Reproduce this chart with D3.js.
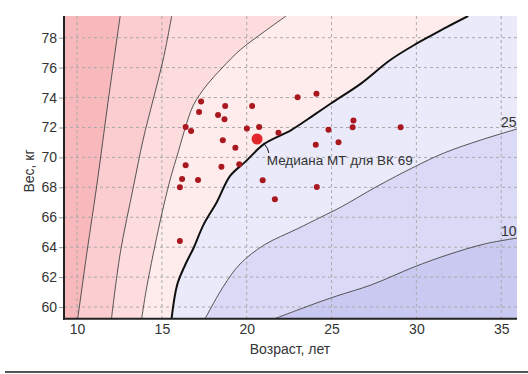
<!DOCTYPE html>
<html><head><meta charset="utf-8">
<script src="https://cdn.jsdelivr.net/npm/d3@7"></script>
<style>body{margin:0;background:#fff}svg{display:block}text{font-family:Arial,"Liberation Sans",sans-serif;fill:#333}</style>
</head><body><svg id="c" width="528" height="374"></svg>
<script>
// Percentile curves (age, weight), each from its upper/right end down to the bottom edge
const curveP97 = [[12.54,79.45],[11.85,73.9],[11.15,68.03],[10.6,63.8],[10.04,59.23]];
const curveP90 = [[15.58,79.45],[15.07,76.51],[14.48,73.84],[13.89,71.17],[13.32,68.03],[12.54,63.57],[12.03,59.23]];
const curveP75 = [[22.32,79.45],[21.03,78.40],[19.61,77.18],[18.55,75.98],[17.65,74.84],[16.86,73.50],[16.37,71.95],[15.97,70.38],[15.48,68.49],[14.89,65.69],[14.11,61.35],[13.81,59.23]];
const curveP50 = [[33.05,79.45],[31.82,78.73],[30.81,78.11],[30.05,77.63],[28.46,76.51],[26.75,74.95],[24.98,73.62],[23.97,72.84],[22.62,71.83],[21.03,70.90],[19.91,69.70],[19.02,68.76],[18.25,67.04],[17.45,65.49],[16.86,63.93],[16.37,62.81],[15.90,61.48],[15.57,59.23]];
const curveP25 = [[35.94,71.90],[33.82,71.17],[31.64,70.30],[29.87,69.36],[27.63,68.03],[25.57,66.69],[24.39,66.02],[22.97,65.22],[21.03,64.15],[19.61,62.88],[18.61,61.35],[17.55,59.23]];
const curveP10 = [[35.94,64.61],[34.0,64.21],[31.82,63.48],[29.87,62.68],[27.34,61.48],[25.31,60.74],[23.97,60.21],[21.67,59.23]];

// Individual observations
const ages = [17.31,17.19,18.73,20.32,18.31,18.69,16.40,16.72,20.01,20.73,21.87,18.59,19.33,19.56,16.40,18.51,16.19,17.13,20.94,16.06,21.66,16.06,23.0,24.11,26.29,26.24,24.82,24.07,25.41,29.07,24.13];
const weights = [73.74,73.04,73.44,73.44,72.84,72.55,72.03,71.77,71.93,72.03,71.65,71.15,70.65,69.55,69.48,69.38,68.56,68.49,68.47,68.01,67.21,64.42,74.02,74.25,72.47,72.01,71.85,70.85,71.02,72.01,68.03];
const medianPoint = [20.61, 71.23];
const medianLabel = "Медиана МТ для ВК 69";
const xTicks = [10,15,20,25,30,35];
const yTicks = [60,62,64,66,68,70,72,74,76,78];
const xTitle = "Возраст, лет";
const yTitle = "Вес, кг";

const L=64,R=517,T=16,B=318.7;
const x = d3.scaleLinear().domain([9.23,35.93]).range([L,R]);
const y = d3.scaleLinear().domain([59.22,79.45]).range([B,T]);
const svg = d3.select("#c");
svg.append("defs").append("clipPath").attr("id","pc").append("rect").attr("x",L).attr("y",T).attr("width",R-L).attr("height",B-T);
const g = svg.append("g").attr("clip-path","url(#pc)");
const line = d3.line().x(d=>x(d[0])).y(d=>y(d[1])).curve(d3.curveCatmullRom);

g.append("rect").attr("x",L).attr("y",T).attr("width",R-L).attr("height",B-T).attr("fill","#f8b9bd");
const bands = [[curveP97,"#fbcdd0"],[curveP90,"#fddcdd"],[curveP75,"#feecec"],[curveP50,"#eaeafb"],[curveP25,"#dadaf7"],[curveP10,"#c9c9f2"]];
bands.forEach(([c,col])=>{
  let p = line(c) + `L${x(36.5)},${y(58.5)}`;
  if (c[0][1] >= 79.4) p += `L${x(36.5)},${y(80)}`;
  p += "Z";
  g.append("path").attr("d",p).attr("fill",col);
});
// grid
xTicks.forEach(t=>g.append("line").attr("x1",x(t)).attr("x2",x(t)).attr("y1",T).attr("y2",B).attr("stroke","#aaa").attr("stroke-dasharray","3,3"));
yTicks.forEach(t=>g.append("line").attr("x1",L).attr("x2",R).attr("y1",y(t)).attr("y2",y(t)).attr("stroke","#aaa").attr("stroke-dasharray","3,3"));
// curves
[curveP97,curveP90,curveP75,curveP25,curveP10].forEach(c=>g.append("path").attr("d",line(c)).attr("fill","none").attr("stroke","#444").attr("stroke-width",0.9));
g.append("path").attr("d",line(curveP50)).attr("fill","none").attr("stroke","#111").attr("stroke-width",2);

// axes
const ya = svg.append("g").attr("transform",`translate(${L},0)`).call(d3.axisLeft(y).tickValues(yTicks).tickSize(5).tickPadding(2).tickFormat(d3.format("d")));
const xa = svg.append("g").attr("transform",`translate(0,${B})`).call(d3.axisBottom(x).tickValues(xTicks).tickSize(0).tickPadding(5).tickFormat(d3.format("d")));
[ya,xa].forEach(a=>{a.select(".domain").remove();a.selectAll("text").attr("font-size",14).attr("font-family","Arial,'Liberation Sans',sans-serif").attr("fill","#333");a.selectAll("line").attr("stroke","#999");});
svg.append("line").attr("x1",L).attr("x2",L).attr("y1",T).attr("y2",B+1).attr("stroke","#222").attr("stroke-width",2);
svg.append("line").attr("x1",L-1).attr("x2",R).attr("y1",B).attr("y2",B).attr("stroke","#222").attr("stroke-width",2);

// labels on curves
svg.append("text").attr("x",x(35.9)).attr("y",y(curveP25[0][1])-2).attr("text-anchor","end").attr("font-size",14).text("25");
svg.append("text").attr("x",x(35.9)).attr("y",y(curveP10[0][1])-2).attr("text-anchor","end").attr("font-size",14).text("10");

// points
const pts = ages.map((a,i)=>[a,weights[i]]);
g.selectAll("circle.pt").data(pts).join("circle").attr("class","pt").attr("cx",d=>x(d[0])).attr("cy",d=>y(d[1])).attr("r",3).attr("fill","#a8181e");
g.append("circle").attr("cx",x(medianPoint[0])).attr("cy",y(medianPoint[1])).attr("r",5.5).attr("fill","#e3262b");

// annotation
svg.append("path").attr("d",`M${x(21.0)},${y(70.95)} Q${x(21.1)+3},${y(70.6)} ${x(21.3)},${y(70.3)}`).attr("fill","none").attr("stroke","#111").attr("stroke-width",1);
svg.append("text").attr("x",x(21.18)).attr("y",165).attr("font-size",13.5).text(medianLabel);

// titles
svg.append("text").attr("x",290).attr("y",354).attr("text-anchor","middle").attr("font-size",14).text(xTitle);
svg.append("text").attr("transform","translate(34,171) rotate(-90)").attr("text-anchor","middle").attr("font-size",14).text(yTitle);
svg.append("line").attr("x1",5).attr("x2",528).attr("y1",372).attr("y2",372).attr("stroke","#555").attr("stroke-width",2);
</script></body></html>
